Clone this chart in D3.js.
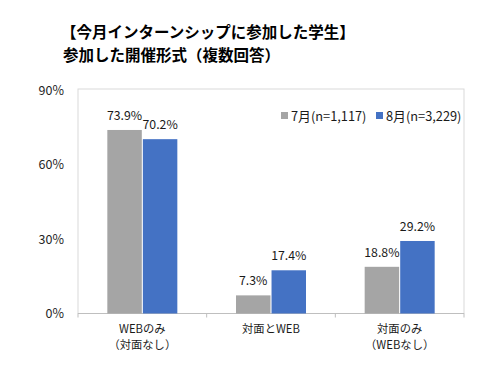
<!DOCTYPE html>
<html><head><meta charset="utf-8">
<script src="https://cdn.jsdelivr.net/npm/d3@7"></script>
<style>
body{margin:0;background:#fff;}
text{font-family:"Noto Sans CJK JP","Noto Sans",sans-serif;}
</style></head>
<body><svg id="c" width="500" height="365"></svg>
<script>
const categories = [["WEBのみ","（対面なし）"],["対面とWEB"],["対面のみ","（WEBなし）"]];
const seriesNames = ["7月(n=1,117)","8月(n=3,229)"];
const july = [73.9, 7.3, 18.8];
const august = [70.2, 17.4, 29.2];
const yTicks = [0, 30, 60, 90];
const colors = ["#A5A5A5", "#4472C4"];

const svg = d3.select("#c");
const L = 78, R = 464, T = 90, B = 313.5;
const x = d3.scaleBand().domain(d3.range(categories.length)).range([L, R]);
const xs = d3.scaleBand().domain([0,1]).range([0, 70]).paddingInner(0.03);
const y = d3.scaleLinear().domain([0, 90]).range([B, T]);

// title
svg.append("text").attr("x", 61).attr("y", 38).attr("font-size", 15.5).attr("font-weight", "bold").attr("fill","#000")
  .text("【今月インターンシップに参加した学生】");
svg.append("text").attr("x", 63).attr("y", 61).attr("font-size", 15.5).attr("font-weight", "bold").attr("fill","#000")
  .text("参加した開催形式（複数回答）");

// frame
svg.append("rect").attr("x", L).attr("y", T - 1).attr("width", R - L).attr("height", B - T + 1)
  .attr("fill", "none").attr("stroke", "#d9d9d9").attr("stroke-width", 1);

// y axis labels
const yAxis = d3.axisLeft(y).tickValues(yTicks).tickFormat(d => d + "%").tickSize(0).tickPadding(14);
const ya = svg.append("g").attr("transform", `translate(${L},0)`).call(yAxis);
ya.select(".domain").remove();
ya.selectAll("text").attr("font-size", 12.5).attr("fill", "#262626").attr("font-family","\"Noto Sans CJK JP\",sans-serif");

// x axis
const xa = svg.append("g").attr("transform", `translate(0,${B})`);
xa.append("line").attr("x1", L).attr("x2", R).attr("y1", 0).attr("y2", 0).attr("stroke", "#bfbfbf");
d3.range(categories.length + 1).forEach(i => {
  const px = i < categories.length ? x(i) : R;
  xa.append("line").attr("x1", px).attr("x2", px).attr("y1", 0).attr("y2", 4).attr("stroke", "#bfbfbf");
});
categories.forEach((lines, i) => {
  lines.forEach((t, j) => {
    svg.append("text").attr("x", x(i) + x.bandwidth()/2).attr("y", B + 19.5 + j*15.5)
      .attr("text-anchor", "middle").attr("font-size", 11.3).attr("fill", "#1a1a1a").text(t);
  });
});

// bars
const data = [july, august];
data.forEach((vals, s) => {
  const g = svg.append("g");
  g.selectAll("rect").data(vals).join("rect")
    .attr("x", (d, i) => x(i) + x.bandwidth()/2 - 35 + xs(s))
    .attr("y", d => y(d)).attr("width", xs.bandwidth()).attr("height", d => B - y(d))
    .attr("fill", colors[s]);
  g.selectAll("text").data(vals).join("text")
    .attr("x", (d, i) => x(i) + x.bandwidth()/2 - 35 + xs(s) + xs.bandwidth()/2)
    .attr("y", d => y(d) - 10).attr("text-anchor", "middle").attr("font-size", 12.3).attr("fill", "#1a1a1a")
    .text(d => d.toFixed(1) + "%");
});

// legend
const lg = svg.append("g");
const legendX = [281, 376];
seriesNames.forEach((n, i) => {
  lg.append("rect").attr("x", legendX[i]).attr("y", 112).attr("width", 7).attr("height", 7).attr("fill", colors[i]);
  lg.append("text").attr("x", legendX[i] + 10).attr("y", 120.5).attr("font-size", 12.8).attr("fill", "#1a1a1a").text(n);
});
</script></body></html>
